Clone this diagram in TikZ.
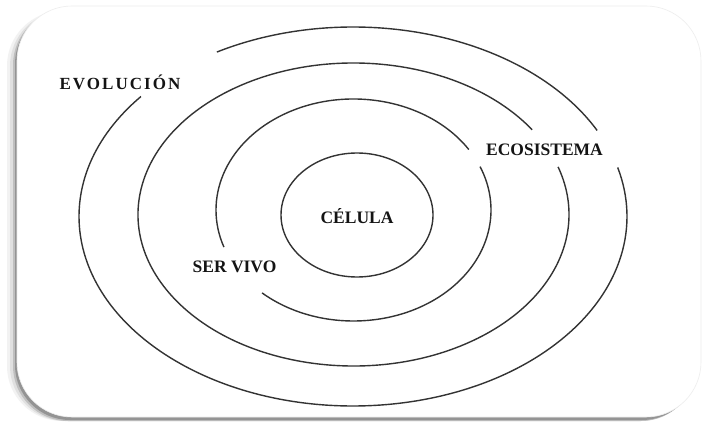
\documentclass[tikz,border=0pt]{standalone}
\usepackage{fontspec}
\setmainfont{Liberation Serif}
\usetikzlibrary{calc}
\begin{document}
\begin{tikzpicture}[x=1pt,y=1pt,
  ring/.style={line width=1.4pt, draw=black!80},
  tag/.style={font=\bfseries\fontsize{17.5}{18}\selectfont, text=black!92, inner sep=0pt, anchor=base},
  card/.style={rounded corners=55pt}]
\useasboundingbox (0,0) rectangle (704,421);
\fill[white] (0,0) rectangle (704,421);
% soft drop shadow, strongest along the bottom and the left side
\fill[card, black!5]  (7,0)  rectangle (694,410);
\fill[card, black!12] (10,0) rectangle (695,410);
\fill[card, black!25] (13,0) rectangle (696,411);
\fill[card, black!42] (15,1) rectangle (697,412);
% the card itself
\filldraw[card, fill=white, draw=black!7, line width=0.6pt] (17,4) rectangle (701,415);

% centres of the nested rings
\coordinate (c1) at (357,206);
\coordinate (c2) at (353.5,211);
\coordinate (c3) at (353.5,206.5);
\coordinate (c4) at (353,204.5);

% cell
\draw[ring] (c1) ellipse[x radius=76, y radius=62];
% living being, open at the label and lower left
\draw[ring] ($(c2)+(33:137.5 and 111)$) arc[start angle=33, end angle=199.5, x radius=137.5, y radius=111];
\draw[ring] ($(c2)+(228.3:137.5 and 111)$) arc[start angle=228.3, end angle=383, x radius=137.5, y radius=111];
% ecosystem
\draw[ring] ($(c3)+(34:215.5 and 151.5)$) arc[start angle=34, end angle=378.3, x radius=215.5, y radius=151.5];
% evolution
\draw[ring] ($(c4)+(27:274 and 189.5)$) arc[start angle=27, end angle=119.8, x radius=274, y radius=189.5];
\draw[ring] ($(c4)+(140.7:274 and 189.5)$) arc[start angle=140.7, end angle=375, x radius=274, y radius=189.5];

% labels
\node[tag] (evol) at (120,331) {\fontsize{17}{17}\selectfont\addfontfeature{LetterSpace=12}EVOLUCIÓN};
\node[tag] (eco) at (544.5,265) {ECOSISTEMA};
\node[tag] (cel) at (357,197.7) {CÉLULA};
\node[tag] (ser) at (234.5,148.3) {SER VIVO};
\end{tikzpicture}
\end{document}
